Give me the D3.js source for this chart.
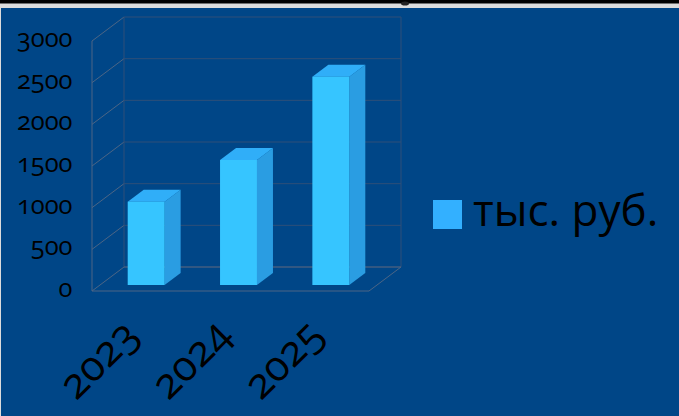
<!DOCTYPE html>
<html>
<head>
<meta charset="utf-8">
<script src="https://cdn.jsdelivr.net/npm/d3@7"></script>
<style>
  html, body { margin: 0; padding: 0; background: #fff; }
  svg { display: block; }
  text { font-family: "Open Sans", sans-serif; fill: #000; font-feature-settings: "onum" 1; }
</style>
</head>
<body>
<script>
const years = ["2023", "2024", "2025"];
const values = [1000, 1500, 2500];
const yTicks = [0, 500, 1000, 1500, 2000, 2500, 3000];
const legendLabel = "тыс. руб.";

const width = 679, height = 416;
const svg = d3.select("body").append("svg").attr("width", width).attr("height", height);

// window strip on top, then the slide background
svg.append("rect").attr("width", width).attr("height", height).attr("fill", "#dcdcdc");
svg.append("rect").attr("width", width).attr("height", 3.5).attr("fill", "#000");
svg.append("ellipse").attr("cx", 405).attr("cy", 3.5).attr("rx", 4).attr("ry", 2).attr("fill", "#222"); // bottom of the cut off title
svg.append("rect").attr("x", 1).attr("y", 8).attr("width", width - 1).attr("height", height - 8).attr("fill", "#004687");

// front plane scales, the 3d part is just an offset
const x = d3.scaleBand().domain(years).range([92, 369]).paddingInner(0.6).paddingOuter(0.3);
const y = d3.scaleLinear().domain([0, 3000]).range([291, 41]);
const wall = { dx: 32, dy: -24 };
const barOff = { dx: 8, dy: -6 };
const barDepth = { dx: 16, dy: -12 };

const x0 = x.range()[0], x1 = x.range()[1];
const backColor = "#2e4f78", sideColor = "#4c6585";

const grid = svg.append("g").attr("fill", "none").attr("stroke-width", 1);
yTicks.forEach(t => {
  grid.append("path").attr("stroke", backColor).attr("d", d3.line()([
    [x0 + wall.dx, y(t) + wall.dy],
    [x1 + wall.dx, y(t) + wall.dy]
  ]));
  grid.append("path").attr("stroke", sideColor).attr("d", d3.line()([
    [x0, y(t)],
    [x0 + wall.dx, y(t) + wall.dy]
  ]));
});
// edges of the box
grid.append("path").attr("stroke", sideColor).attr("d", d3.line()([[x0, y(0)], [x0, y(3000)]]));
grid.append("path").attr("stroke", backColor).attr("d", d3.line()([[x0 + wall.dx, y(0) + wall.dy], [x0 + wall.dx, y(3000) + wall.dy]]));
grid.append("path").attr("stroke", backColor).attr("d", d3.line()([[x1 + wall.dx, y(0) + wall.dy], [x1 + wall.dx, y(3000) + wall.dy]]));
grid.append("path").attr("stroke", sideColor).attr("d", d3.line()([
  [x0, y(0)], [x1, y(0)], [x1 + wall.dx, y(0) + wall.dy], [x0 + wall.dx, y(0) + wall.dy]
]));

// bars
const bars = svg.append("g").selectAll("g").data(values).join("g");
const bx = (d, i) => x(years[i]) + barOff.dx;
const by = d => y(d) + barOff.dy;
const base = y(0) + barOff.dy;
bars.append("path").attr("fill", "#2a9de2").attr("d", (d, i) => {
  const l = bx(d, i) + x.bandwidth();
  return d3.line()([[l, by(d)], [l + barDepth.dx, by(d) + barDepth.dy], [l + barDepth.dx, base + barDepth.dy], [l, base]]) + "Z";
});
bars.append("path").attr("fill", "#30aef8").attr("d", (d, i) => {
  const l = bx(d, i), r = l + x.bandwidth();
  return d3.line()([[l, by(d)], [l + barDepth.dx, by(d) + barDepth.dy], [r + barDepth.dx, by(d) + barDepth.dy], [r, by(d)]]) + "Z";
});
bars.append("rect").attr("fill", "#36c5ff")
  .attr("x", bx).attr("y", by)
  .attr("width", x.bandwidth()).attr("height", d => base - by(d));

// y labels
svg.append("g").selectAll("text").data(yTicks).join("text")
  .attr("x", 72.5).attr("y", d => y(d) + 6)
  .attr("text-anchor", "end").attr("font-size", 25.5)
  .text(d => d);

// x labels
svg.append("g").selectAll("text").data(years).join("text")
  .attr("transform", d => `translate(${x(d) + x.bandwidth() / 2 - 18},${y(0) + 25}) rotate(-45)`)
  .attr("text-anchor", "end").attr("dy", "0.7em").attr("font-size", 42)
  .text(d => d);

// legend
svg.append("rect").attr("x", 433).attr("y", 200).attr("width", 29).attr("height", 29).attr("fill", "#33b0ff");
svg.append("text").attr("x", 473).attr("y", 226).attr("font-size", 44).text(legendLabel);
</script>
</body>
</html>
